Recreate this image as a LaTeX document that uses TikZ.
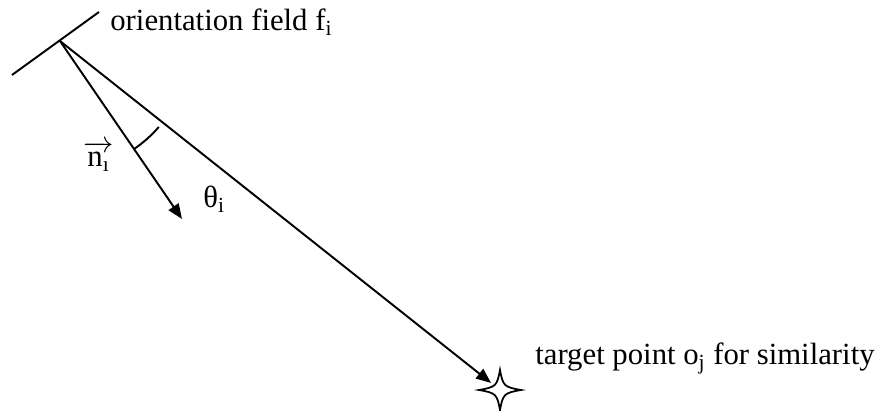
\documentclass[tikz,border=0pt]{standalone}
\usepackage{fontspec}
\setmainfont{Liberation Serif}
\usepackage{amsmath}
\usetikzlibrary{arrows.meta}
\begin{document}
\begin{tikzpicture}[x=0.02cm, y=-0.02cm,
  vec/.style={-{Triangle[length=3mm, width=2.4mm]}, line width=1.1pt},
  fieldline/.style={line width=1.1pt},
  lbl/.style={anchor=base west, inner sep=0pt, font=\fontsize{17.5}{20}\selectfont},
  sparkle/.style={line width=1pt, fill=white}
]
\useasboundingbox (0,0) rectangle (887,411);
\coordinate (pivot) at (60,41);
\coordinate (fa) at (12,75);
\coordinate (fb) at (99,12);
\coordinate (ntip) at (182,219);
\node[circle, minimum size=0.44cm, inner sep=0pt] (target) at (500,390) {};
\draw[fieldline] (fa) -- (fb);
\draw[vec] (pivot) -- (ntip);
\draw[vec] (pivot) -- (target);
\draw[fieldline] (pivot) ++(55.6:131) arc[start angle=55.6, end angle=41, radius=131];
\begin{scope}[shift={(target.center)}]
\draw[sparkle] (21,0) .. controls (4,-3) and (3,-4) .. (0,-20) .. controls (-3,-4) and (-4,-3) .. (-21,0) .. controls (-4,3) and (-3,4) .. (0,20) .. controls (3,4) and (4,3) .. cycle;
\end{scope}
\node[lbl] (fieldlbl) at (110,31) {orientation field f\textsubscript{i}};
\node[lbl] (targetlbl) at (535,365) {target point o\textsubscript{j} for similarity};
\node[lbl] (nlbl) at (83,167) {$\overrightarrow{\hbox{n\textsubscript{ı}}}$};
\node[lbl] (thetalbl) at (203,208) {θ\textsubscript{i}};
\end{tikzpicture}
\end{document}
